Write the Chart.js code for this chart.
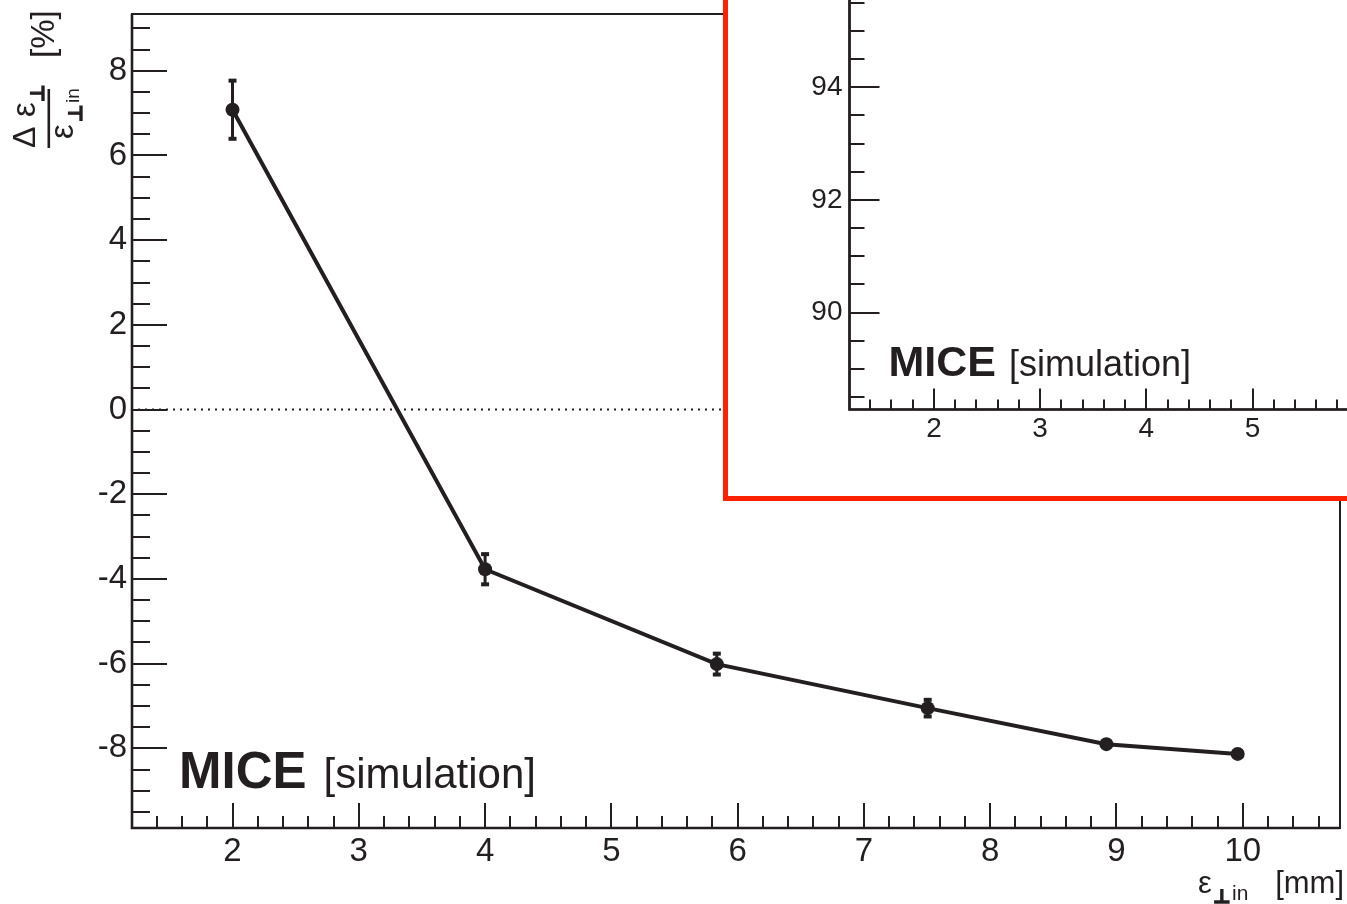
<!DOCTYPE html>
<html>
<head>
<meta charset="utf-8">
<script src="https://cdn.jsdelivr.net/npm/chart.js@4.4.1/dist/chart.umd.min.js"></script>
<style>
  html, body { margin: 0; padding: 0; background: #fff; overflow: hidden; width: 1347px; height: 904px; }
  #main { position: absolute; left: 0; top: 0; }
  #insetBox { position: absolute; left: 723px; top: -289px; width: 1000px; height: 780px;
              border: 5px solid rgb(255,34,0); background: #fff; }
  #inset { position: absolute; left: 0; top: 0; }
</style>
</head>
<body>
<canvas id="main" width="1347" height="904"></canvas>
<div id="insetBox"><canvas id="inset" width="1000" height="780"></canvas></div>
<script>
// ---------------- data ----------------
const emittanceIn   = [2.0, 4.0, 5.835, 7.505, 8.92, 9.96];      // x: ε⊥ in [mm]
const emittanceDiff = [7.08, -3.77, -6.01, -7.05, -7.90, -8.13]; // y: Δε⊥/ε⊥in [%]
const diffErrors    = [0.71, 0.38, 0.27, 0.22, 0.08, 0.08];
const xTickLabels   = [2, 3, 4, 5, 6, 7, 8, 9, 10];
const yTickLabels   = [-8, -6, -4, -2, 0, 2, 4, 6, 8];
const insetXTickLabels = [2, 3, 4, 5];
const insetYTickLabels = [90, 92, 94];

const INK = '#231f20';
const FONT = "'Liberation Sans', Arial, sans-serif";

function drawRootTicks(ctx, a, x, y, cfg) {
  ctx.save();
  ctx.strokeStyle = INK;
  ctx.lineWidth = 2;
  ctx.setLineDash([]);
  for (let k = Math.ceil(x.min / cfg.xMinor - 1e-9); k * cfg.xMinor <= x.max + 1e-9; k++) {
    const v = k * cfg.xMinor;
    const major = Math.abs(v / cfg.xMajor - Math.round(v / cfg.xMajor)) < 1e-6;
    const px = Math.round(x.getPixelForValue(v));
    ctx.beginPath();
    ctx.moveTo(px, a.bottom);
    ctx.lineTo(px, a.bottom - (major ? cfg.xMajorLen : cfg.xMinorLen));
    ctx.stroke();
  }
  for (let k = Math.ceil(y.min / cfg.yMinor - 1e-9); k * cfg.yMinor <= y.max + 1e-9; k++) {
    const v = k * cfg.yMinor;
    const major = Math.abs(v / cfg.yMajor - Math.round(v / cfg.yMajor)) < 1e-6;
    const py = Math.round(y.getPixelForValue(v));
    ctx.beginPath();
    ctx.moveTo(a.left, py);
    ctx.lineTo(a.left + (major ? cfg.yMajorLen : cfg.yMinorLen), py);
    ctx.stroke();
  }
  ctx.lineWidth = 2;
  ctx.strokeRect(a.left, a.top, a.right - a.left, a.bottom - a.top);
  ctx.lineWidth = 2.6;
  ctx.beginPath();
  ctx.moveTo(a.left, a.top); ctx.lineTo(a.left, a.bottom); ctx.lineTo(a.right, a.bottom);
  ctx.stroke();
  ctx.restore();
}

function drawMice(ctx, xLeft, baseline, boldSize, normSize, gap) {
  ctx.save();
  ctx.fillStyle = INK;
  ctx.textBaseline = 'alphabetic';
  ctx.textAlign = 'left';
  ctx.font = `bold ${boldSize}px ${FONT}`;
  ctx.fillText('MICE', xLeft, baseline);
  const w = ctx.measureText('MICE').width;
  ctx.font = `${normSize}px ${FONT}`;
  ctx.fillText('[simulation]', xLeft + w + gap, baseline);
  ctx.restore();
}

function perp(ctx, size, px, py) {
  ctx.font = `bold ${size}px 'DejaVu Sans', sans-serif`;
  ctx.lineWidth = 1.4;
  ctx.strokeStyle = INK;
  ctx.fillText('⊥', px, py);
  ctx.strokeText('⊥', px, py);
}

const mainPlugin = {
  id: 'mainRoot',
  beforeDatasetsDraw(chart) {
    const { ctx, chartArea: a, scales: { x, y } } = chart;
    ctx.save();
    ctx.strokeStyle = INK;
    ctx.lineWidth = 2;
    ctx.setLineDash([2, 5]);
    const y0 = y.getPixelForValue(0);
    ctx.beginPath(); ctx.moveTo(a.left + 6, y0); ctx.lineTo(a.right, y0); ctx.stroke();
    ctx.restore();
    ctx.save();
    ctx.strokeStyle = INK; ctx.fillStyle = INK; ctx.lineWidth = 3;
    emittanceIn.forEach((xv, i) => {
      const px = x.getPixelForValue(xv);
      const pTop = y.getPixelForValue(emittanceDiff[i] + diffErrors[i]);
      const pBot = y.getPixelForValue(emittanceDiff[i] - diffErrors[i]);
      ctx.beginPath(); ctx.moveTo(px, pTop); ctx.lineTo(px, pBot); ctx.stroke();
      ctx.fillRect(px - 4, pTop - 1, 8, 4);
      ctx.fillRect(px - 4, pBot - 3, 8, 4);
    });
    ctx.restore();
  },
  afterDraw(chart) {
    const { ctx, chartArea: a, scales: { x, y } } = chart;
    drawRootTicks(ctx, a, x, y, { xMinor: 0.2, xMajor: 1, xMajorLen: 25, xMinorLen: 12,
                                  yMinor: 0.5, yMajor: 2, yMajorLen: 35, yMinorLen: 18 });
    drawMice(ctx, 179, 788, 51, 42, 17);
    // x-axis title: ε⊥ in [mm]
    ctx.save();
    ctx.fillStyle = INK;
    ctx.textBaseline = 'alphabetic';
    ctx.font = `31px ${FONT}`;
    ctx.textAlign = 'right';
    ctx.fillText('[mm]', 1344, 893);
    ctx.textAlign = 'left';
    ctx.fillText('ε', 1198, 893);
    perp(ctx, 19, 1213, 903);
    ctx.font = `21px ${FONT}`;
    ctx.fillText('in', 1232, 900);
    ctx.restore();
    // y-axis title (rotated): fraction Δε⊥ / ε⊥in  [%]
    ctx.save();
    ctx.fillStyle = INK;
    ctx.rotate(-Math.PI / 2);
    ctx.textBaseline = 'alphabetic';
    ctx.textAlign = 'left';
    ctx.font = `32px ${FONT}`;
    ctx.fillText('Δ', -148, 35);
    ctx.font = `33px ${FONT}`;
    ctx.fillText('ε', -117, 35);
    perp(ctx, 19, -102, 44);
    ctx.fillRect(-148, 47.5, 59, 2.6);
    ctx.font = `33px ${FONT}`;
    ctx.fillText('ε', -139, 73);
    perp(ctx, 19, -122, 82);
    ctx.font = `19px ${FONT}`;
    ctx.fillText('in', -103, 79);
    ctx.font = `33px ${FONT}`;
    ctx.fillText('[%]', -58, 54);
    ctx.restore();
  }
};

new Chart(document.getElementById('main'), {
  type: 'scatter',
  data: {
    datasets: [{
      data: emittanceIn.map((v, i) => ({ x: v, y: emittanceDiff[i] })),
      showLine: true,
      borderColor: INK,
      backgroundColor: INK,
      borderWidth: 4,
      pointRadius: 7,
      pointHoverRadius: 7,
      pointBackgroundColor: INK,
      pointBorderWidth: 0,
      tension: 0
    }]
  },
  options: {
    responsive: false,
    animation: false,
    events: [],
    layout: { padding: { left: 0, top: 14, right: 6, bottom: 0 } },
    plugins: { legend: { display: false }, tooltip: { enabled: false } },
    scales: {
      x: {
        type: 'linear', position: 'bottom', min: 1.204, max: 10.77,
        afterBuildTicks: s => { s.ticks = xTickLabels.map(v => ({ value: v })); },
        afterFit: s => { s.height = 76; s.paddingLeft = 0; s.paddingRight = 0; s.paddingTop = 0; s.paddingBottom = 0; },
        grid: { display: false, drawTicks: false },
        border: { display: false },
        ticks: { autoSkip: false, maxRotation: 0, minRotation: 0, padding: 7, color: INK,
                 font: { family: FONT, size: 33, lineHeight: 1 } }
      },
      y: {
        type: 'linear', position: 'left', min: -9.88, max: 9.34,
        afterBuildTicks: s => { s.ticks = yTickLabels.map(v => ({ value: v })); },
        afterFit: s => { s.width = 132; s.paddingLeft = 0; s.paddingRight = 0; s.paddingTop = 0; s.paddingBottom = 0; },
        grid: { display: false, drawTicks: false },
        border: { display: false },
        ticks: { autoSkip: false, padding: 5, color: INK,
                 font: { family: FONT, size: 33, lineHeight: 1 } }
      }
    }
  },
  plugins: [mainPlugin]
});

// ---------------- inset ----------------
const insetPlugin = {
  id: 'insetRoot',
  afterDraw(chart) {
    const { ctx, chartArea: a, scales: { x, y } } = chart;
    drawRootTicks(ctx, a, x, y, { xMinor: 0.2, xMajor: 1, xMajorLen: 21, xMinorLen: 10,
                                  yMinor: 0.5, yMajor: 2, yMajorLen: 30, yMinorLen: 15 });
    drawMice(ctx, a.left + 39, a.bottom - 34, 43, 36, 13);
  }
};

new Chart(document.getElementById('inset'), {
  type: 'scatter',
  data: { datasets: [{ data: [] }] },
  options: {
    responsive: false,
    animation: false,
    events: [],
    layout: { padding: 0 },
    plugins: { legend: { display: false }, tooltip: { enabled: false } },
    scales: {
      x: {
        type: 'linear', position: 'bottom', min: 1.205, max: 9.477,
        afterBuildTicks: s => { s.ticks = insetXTickLabels.map(v => ({ value: v })); },
        afterFit: s => { s.height = 86.5; s.paddingLeft = 0; s.paddingRight = 0; s.paddingTop = 0; s.paddingBottom = 0; },
        grid: { display: false, drawTicks: false },
        border: { display: false },
        ticks: { autoSkip: false, maxRotation: 0, minRotation: 0, padding: 6, color: INK,
                 font: { family: FONT, size: 28, lineHeight: 1 } }
      },
      y: {
        type: 'linear', position: 'left', min: 88.28, max: 100.59,
        afterBuildTicks: s => { s.ticks = insetYTickLabels.map(v => ({ value: v })); },
        afterFit: s => { s.width = 121.5; s.paddingLeft = 0; s.paddingRight = 0; s.paddingTop = 0; s.paddingBottom = 0; },
        grid: { display: false, drawTicks: false },
        border: { display: false },
        ticks: { autoSkip: false, padding: 7, color: INK,
                 font: { family: FONT, size: 28, lineHeight: 1 } }
      }
    }
  },
  plugins: [insetPlugin]
});
</script>
</body>
</html>
